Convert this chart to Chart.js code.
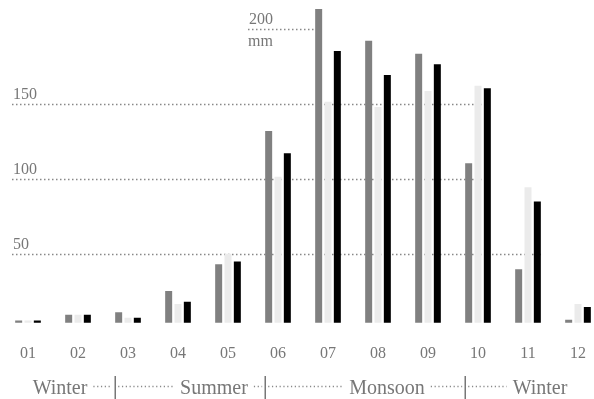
<!DOCTYPE html>
<html>
<head>
<meta charset="utf-8">
<script src="https://cdn.jsdelivr.net/npm/chart.js@4/dist/chart.umd.min.js"></script>
<style>
  html, body { margin: 0; padding: 0; background: #fff; overflow: hidden; }
  #wrap { width: 594px; height: 399px; overflow: hidden; }
</style>
</head>
<body>
<div id="wrap"><canvas id="rainChart" width="606" height="399"></canvas></div>
<script>
// monthly rainfall, mm
const months = ['01', '02', '03', '04', '05', '06', '07', '08', '09', '10', '11', '12'];
const seriesA = [5.5, 9.3, 11.1, 25.2, 43.1, 132, 213.3, 192.2, 183.5, 110.5, 39.8, 6];
const seriesB = [5.5, 9.3, 7.3, 16.5, 50, 101.5, 151.5, 148, 158.7, 162.2, 94.5, 16.5];
const seriesC = [5.5, 9.3, 7.3, 18.1, 44.9, 117.1, 185.3, 169.3, 176.5, 160.5, 84.9, 14.5];
const gridValues = [50, 100, 150, 200];
const unitLabel = 'mm';

// seasons: name, first month index, label anchor (in month units)
const seasonNames = ['Winter', 'Summer', 'Monsoon', 'Winter'];
const seasonStarts = [0, 2, 5, 9];
const seasonLabelAt = [0.64, 3.72, 7.18, 10.24];

const textColor = '#777';
const serif = '"Liberation Serif", "DejaVu Serif", serif';

function dottedLine(ctx, x1, x2, y) {
    if (x2 <= x1) return;
    ctx.beginPath();
    ctx.moveTo(x1, y);
    ctx.lineTo(x2, y);
    ctx.stroke();
}

const rainDecor = {
    id: 'rainDecor',
    beforeDatasetsDraw(chart) {
        const ctx = chart.ctx;
        const x = chart.scales.x;
        const y = chart.scales.y;
        const sets = chart.data.datasets;
        ctx.save();
        ctx.strokeStyle = '#888';
        ctx.lineWidth = 1.5;
        ctx.setLineDash([1.5, 2.5]);
        ctx.fillStyle = textColor;
        ctx.font = '16px ' + serif;
        ctx.textBaseline = 'alphabetic';
        ctx.textAlign = 'left';
        gridValues.forEach((v, i) => {
            const py = Math.round(y.getPixelForValue(v)) + 0.5;
            // line runs to the right edge of the last bar taller than it
            let end = 0;
            sets.forEach((ds, d) => {
                const meta = chart.getDatasetMeta(d);
                ds.data.forEach((val, m) => {
                    if (val > v) {
                        const bar = meta.data[m];
                        end = Math.max(end, bar.x + bar.width / 2);
                    }
                });
            });
            const isTop = i === gridValues.length - 1;
            const start = isTop ? x.getPixelForValue(6) - 80 : 12;
            dottedLine(ctx, start, end, py);
            ctx.fillText(String(v), start + 1, py - 6);
            if (isTop) ctx.fillText(unitLabel, start, py + 16);
        });
        ctx.restore();
    },
    afterDraw(chart) {
        const ctx = chart.ctx;
        const x = chart.scales.x;
        const gray = chart.getDatasetMeta(0);
        const rowY = 394;
        const dotY = 386.5;
        ctx.save();
        ctx.font = '20px ' + serif;
        ctx.fillStyle = textColor;
        ctx.textAlign = 'center';
        ctx.textBaseline = 'alphabetic';
        ctx.strokeStyle = '#888';

        // separators at the left edge of each season's first bar
        const seps = seasonStarts.map(m => {
            const bar = gray.data[m];
            return bar.x - bar.width / 2;
        });

        seasonNames.forEach((name, i) => {
            const cx = x.getPixelForValue(seasonLabelAt[i]);
            const w = ctx.measureText(name).width;
            ctx.fillText(name, cx, rowY);
            ctx.lineWidth = 1.5;
            ctx.setLineDash([1.2, 2.6]);
            const left = cx - w / 2;
            const right = cx + w / 2;
            if (i > 0) dottedLine(ctx, seps[i] + 3, left - 6, dotY);
            if (i < seasonNames.length - 1) dottedLine(ctx, right + 6, seps[i + 1] - 3, dotY);
        });

        ctx.setLineDash([]);
        ctx.lineWidth = 1.5;
        ctx.strokeStyle = '#777';
        seps.slice(1).forEach(sx => {
            const px = Math.round(sx) + 0.25;
            ctx.beginPath();
            ctx.moveTo(px, 376);
            ctx.lineTo(px, 399);
            ctx.stroke();
        });
        ctx.restore();
    }
};

const ctx = document.getElementById('rainChart').getContext('2d');
new Chart(ctx, {
    type: 'bar',
    data: {
        labels: months,
        datasets: [
            { label: 'A', data: seriesA, backgroundColor: '#808080' },
            { label: 'B', data: seriesB, backgroundColor: '#ebebeb' },
            { label: 'C', data: seriesC, backgroundColor: '#000000' }
        ]
    },
    options: {
        responsive: false,
        animation: false,
        events: [],
        layout: { padding: { left: 3, right: 3, top: 0, bottom: 21 } },
        datasets: {
            bar: { base: 4, categoryPercentage: 0.56, barPercentage: 0.75, borderWidth: 0 }
        },
        plugins: {
            legend: { display: false },
            tooltip: { enabled: false }
        },
        scales: {
            x: {
                grid: { display: false, drawTicks: false },
                border: { display: false },
                ticks: {
                    color: textColor,
                    font: { family: serif, size: 16 },
                    padding: 15,
                    maxRotation: 0,
                    autoSkip: false
                }
            },
            y: {
                min: 0,
                max: 219.33,
                grid: { display: false, drawTicks: false },
                border: { display: false },
                ticks: { display: false, stepSize: 50 }
            }
        }
    },
    plugins: [rainDecor]
});
</script>
</body>
</html>
